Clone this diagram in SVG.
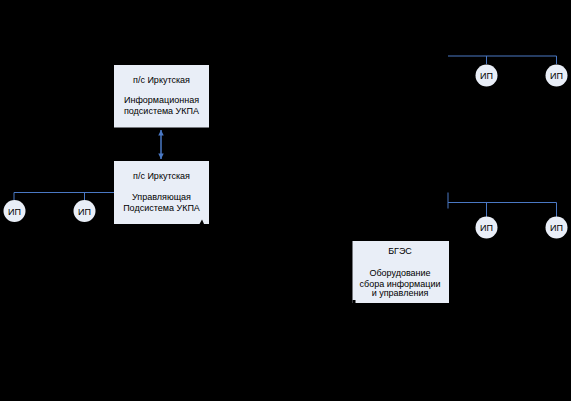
<svg xmlns="http://www.w3.org/2000/svg" width="571" height="401" viewBox="0 0 571 401">
<style>
.box{fill:#E9EEF7;stroke:none}
.ip{fill:#E9EEF7;stroke:none}
.bus{fill:none;stroke:#4A78C4;stroke-width:1}
.arr{fill:none;stroke:#4A78C4;stroke-width:1.5}
text{font-family:"Liberation Sans",Arial,sans-serif;font-size:9px;fill:#000;text-anchor:middle}
.notch{fill:#000}
</style>
<defs>
<marker id="ah" viewBox="0 0 10 10" refX="10" refY="5" markerUnits="userSpaceOnUse" markerWidth="7" markerHeight="5.5" orient="auto-start-reverse">
<path d="M0,0 L10,5 L0,10 Z" fill="#4A78C4"/>
</marker>
</defs>
<rect width="571" height="401" fill="#000"/>
<g id="connectors">
<line class="arr" x1="161" y1="130" x2="161" y2="159" marker-start="url(#ah)" marker-end="url(#ah)"/>
<path class="bus" d="M114,192.5 H14 V200 M84.5,192.5 V200"/>
<path class="bus" d="M448,56 H556.5 V64 M486.5,56 V64"/>
<path class="bus" d="M448,192.5 V208.5 M448,202.5 H556.5 V217 M486.5,202.5 V217"/>
</g>
<g id="box-info">
<rect class="box" x="114" y="65" width="95" height="62.5"/>
<text x="161.5" y="83">п/с Иркутская</text>
<text x="161.5" y="103">Информационная</text>
<text x="161.5" y="113.5">подсистема УКПА</text>
</g>
<g id="box-control">
<rect class="box" x="114" y="161" width="95" height="63"/>
<text x="161.5" y="178.5">п/с Иркутская</text>
<text x="161.5" y="199.5">Управляющая</text>
<text x="161.5" y="210.5">Подсистема УКПА</text>
<path class="notch" d="M199.5,224 L202,219.5 L204,224 Z"/>
</g>
<g id="box-bges">
<rect class="box" x="352.5" y="241" width="96.5" height="62"/>
<text x="400" y="253.5">БГЭС</text>
<text x="400" y="276">Оборудование</text>
<text x="400" y="287">сбора информации</text>
<text x="400" y="296">и управления</text>
<path class="notch" d="M352.5,303 L352.5,300 L355.5,300 L355.5,303 Z"/>
</g>
<g id="ip-l1"><circle class="ip" cx="14.5" cy="211" r="11"/><text x="14.5" y="214.5">ИП</text></g>
<g id="ip-l2"><circle class="ip" cx="84.5" cy="211" r="11"/><text x="84.5" y="214.5">ИП</text></g>
<g id="ip-tr1"><circle class="ip" cx="486.5" cy="75.5" r="11"/><text x="486.5" y="79">ИП</text></g>
<g id="ip-tr2"><circle class="ip" cx="556.5" cy="75.5" r="11"/><text x="556.5" y="79">ИП</text></g>
<g id="ip-br1"><circle class="ip" cx="486.5" cy="227.5" r="11"/><text x="486.5" y="231">ИП</text></g>
<g id="ip-br2"><circle class="ip" cx="556.5" cy="227.5" r="11"/><text x="556.5" y="231">ИП</text></g>
</svg>
